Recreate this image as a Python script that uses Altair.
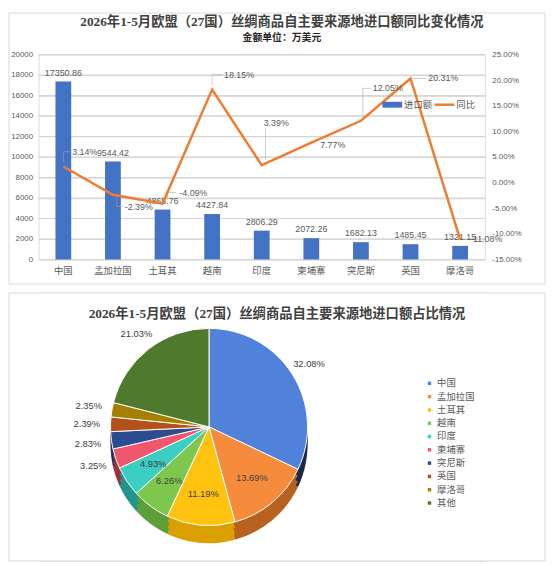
import altair as alt
import pandas as pd

# ---------------- data ----------------
countries = ["中国", "孟加拉国", "土耳其", "越南", "印度", "柬埔寨", "突尼斯", "英国", "摩洛哥"]
import_values = [17350.86, 9544.42, 4865.76, 4427.84, 2806.29, 2072.26, 1682.13, 1485.45, 1321.15]
yoy_pct = [3.14, -2.39, -4.09, 18.15, 3.39, 7.77, 12.05, 20.31, -11.08]

left_ticks = [0, 2000, 4000, 6000, 8000, 10000, 12000, 14000, 16000, 18000, 20000]
right_ticks = [-15, -10, -5, 0, 5, 10, 15, 20, 25]

pie_names = ["中国", "孟加拉国", "土耳其", "越南", "印度", "柬埔寨", "突尼斯", "英国", "摩洛哥", "其他"]
pie_shares = [32.08, 13.69, 11.19, 6.26, 4.93, 3.25, 2.83, 2.39, 2.35, 21.03]

top_title = "2026年1-5月欧盟（27国）丝绸商品自主要来源地进口额同比变化情况"
top_subtitle = "金额单位：万美元"
bottom_title = "2026年1-5月欧盟（27国）丝绸商品自主要来源地进口额占比情况"
bar_name = "进口额"
line_name = "同比"

# ---------------- styles ----------------
W, H = 453, 208
FONT = "Liberation Sans, Noto Sans CJK SC"
CJK = "Noto Sans CJK SC"
TFONT = "Liberation Serif, Noto Sans CJK SC"
GREY = "#595959"
FRAME = "#D9D9D9"
GRID = "#D4D4D4"
LEADER = "#A6A6A6"
BAR = "#4472C4"
LINE = "#ED7D31"

face_colors = ["#5082D9", "#F68B3B", "#FFC30F", "#7DC74F", "#3CCEC2",
               "#F1566F", "#2B4C8E", "#B4501A", "#A57F00", "#4F7A2E"]
side_colors = ["#1B2A4A", "#B8621F", "#D9A000", "#5E9E36", "#22968D",
               "#9C3040", "#1D3360", "#7A3610", "#6E5600", "#35531F"]

# label offsets for the growth-rate labels (dx, dy)
line_label_offsets = {
    "中国": (9, -15), "孟加拉国": (12, 12), "土耳其": (17, -11), "越南": (12, -15),
    "印度": (2, -43), "柬埔寨": (9, 2), "突尼斯": (12, -33), "英国": (18, 0), "摩洛哥": (10, 0),
}
# leader-line segments: (orient, dx of centre, dy of centre, length)
leader_segments = {
    "中国": [("vertical", 0, -10, 10), ("horizontal", 3.5, -15, 7)],
    "孟加拉国": [("vertical", 4, 7.5, 9), ("horizontal", 7, 12, 6)],
    "土耳其": [("vertical", 5, -8, 6), ("horizontal", 9.5, -11, 9)],
    "越南": [("vertical", 0, -10, 10), ("horizontal", 5, -15, 10)],
    "印度": [("vertical", 4, -21.5, 33)],
    "突尼斯": [("vertical", 2, -18, 30), ("horizontal", 6, -33, 8)],
    "英国": [("horizontal", 9, 0, 14)],
}

PCT = "(V < 0 ? '-' : '') + format(abs(V), '.2f') + '%'"

df = pd.DataFrame({"country": countries, "imports": import_values, "yoy": yoy_pct})
grid_df = pd.DataFrame({"gv": left_ticks})
one = pd.DataFrame({"k": [0]})

x_enc = alt.X(
    "country:N", sort=countries,
    scale=alt.Scale(paddingInner=0, paddingOuter=0),
    axis=alt.Axis(title=None, labelAngle=0, ticks=False, domain=False,
                  labelFont=CJK, labelFontSize=9.5, labelColor=GREY, labelPadding=6),
)
yl_axis = alt.Axis(orient="left", title=None, values=left_ticks, grid=True, gridColor=GRID,
                   domain=False, ticks=False, labelFont=FONT, labelFontSize=8,
                   labelColor=GREY, labelPadding=6, format="d")
yl_scale = alt.Scale(domain=[0, 20000], nice=False)
yl_enc = alt.Y("imports:Q", scale=yl_scale, axis=yl_axis)
yr_enc = alt.Y(
    "yoy:Q", scale=alt.Scale(domain=[-15, 25], nice=False),
    axis=alt.Axis(orient="right", title=None, values=right_ticks, grid=False,
                  domain=False, ticks=False, labelFont=FONT, labelFontSize=8,
                  labelColor=GREY, labelPadding=7,
                  labelExpr=PCT.replace("V", "datum.value")),
)

base = alt.Chart(df)
grid = alt.Chart(grid_df).mark_tick(orient="horizontal", size=W, thickness=1, color=GRID,
                                    opacity=1).encode(
    y=alt.Y("gv:Q", scale=yl_scale, axis=yl_axis), x=alt.value(W / 2))
bars = base.mark_bar(size=16, color=BAR).encode(x=x_enc, y=yl_enc)
bar_text = base.mark_text(dy=-9, fontSize=9, color=GREY, font=FONT).encode(
    x=x_enc, y=yl_enc, text=alt.Text("imports:Q", format=".2f"))
left = alt.layer(grid, bars, bar_text)

line = base.mark_line(color=LINE, strokeWidth=2.5).encode(x=x_enc, y=yr_enc)
right_layers = []
for c in countries:
    for orient, sdx, sdy, ln in leader_segments.get(c, []):
        right_layers.append(
            base.transform_filter(alt.datum.country == c)
            .mark_tick(orient=orient, size=ln, thickness=0.8, color=LEADER,
                       xOffset=sdx, yOffset=sdy)
            .encode(x=x_enc, y=yr_enc)
        )
right_layers.append(line)
for c in countries:
    dx, dy = line_label_offsets[c]
    right_layers.append(
        base.transform_filter(alt.datum.country == c)
        .transform_calculate(lab=PCT.replace("V", "datum.yoy"))
        .mark_text(align="left", dx=dx, dy=dy, fontSize=9, color=GREY, font=FONT)
        .encode(x=x_enc, y=yr_enc, text="lab:N")
    )
right = alt.layer(*right_layers)

dec = alt.Chart(one)
top_frame = dec.mark_rect(fill="transparent", stroke=FRAME, strokeWidth=1).encode(
    x=alt.value(-30), x2=alt.value(514), y=alt.value(-42), y2=alt.value(233))
t_title = dec.mark_text(fontSize=13.5, fontWeight="bold", font=TFONT, color="#404040").encode(
    x=alt.value(247), y=alt.value(-33), text=alt.value(top_title))
t_sub = dec.mark_text(fontSize=10, fontWeight="bold", font=CJK, color="#262626").encode(
    x=alt.value(247), y=alt.value(-17), text=alt.value(top_subtitle))
leg_rect = dec.mark_rect(color=BAR).encode(
    x=alt.value(349), x2=alt.value(369), y=alt.value(48), y2=alt.value(54))
leg_t1 = dec.mark_text(align="left", fontSize=9.5, font=CJK, color=GREY).encode(
    x=alt.value(371), y=alt.value(51), text=alt.value(bar_name))
leg_line = dec.mark_rule(color=LINE, strokeWidth=2.5).encode(
    x=alt.value(402), x2=alt.value(422), y=alt.value(51))
leg_t2 = dec.mark_text(align="left", fontSize=9.5, font=CJK, color=GREY).encode(
    x=alt.value(424), y=alt.value(51), text=alt.value(line_name))

top = alt.layer(top_frame, left, right, t_title, t_sub, leg_rect, leg_t1, leg_line, leg_t2) \
    .resolve_scale(y="independent").properties(width=W, height=H)

# ---------------- pie ----------------
pie_df = pd.DataFrame({"country": pie_names, "share": pie_shares, "idx": list(range(len(pie_names)))})
inside = ["孟加拉国", "土耳其", "越南", "印度"]
big_out = ["中国", "其他"]
small_out = ["柬埔寨", "突尼斯", "英国", "摩洛哥"]

pbase = alt.Chart(pie_df).transform_calculate(
    lab_in="indexof(" + str(inside) + ", datum.country) >= 0 ? format(datum.share, '.2f') + '%' : ''",
    lab_big="indexof(" + str(big_out) + ", datum.country) >= 0 ? format(datum.share, '.2f') + '%' : ''",
    lab_small="indexof(" + str(small_out) + ", datum.country) >= 0 ? format(datum.share, '.2f') + '%' : ''",
)
CX, CY, R = 173, 136, 100
DEPTH = 18
theta = alt.Theta("share:Q", stack=True)
order = alt.Order("idx:Q")

sides = []
for off in (DEPTH, DEPTH * 2 // 3, DEPTH // 3):
    sides.append(pbase.mark_arc(radius=R).encode(
        theta=theta, order=order,
        color=alt.Color("country:N", scale=alt.Scale(domain=pie_names, range=side_colors), legend=None),
        x=alt.value(CX), y=alt.value(CY + off)))

face = pbase.mark_arc(radius=R, stroke="white", strokeWidth=1).encode(
    theta=theta, order=order,
    color=alt.Color("country:N", scale=alt.Scale(domain=pie_names, range=face_colors),
                    legend=alt.Legend(title=None, orient="none", legendX=392, legendY=87,
                                      symbolType="square", symbolSize=12, symbolStrokeWidth=0,
                                      labelFont=CJK, labelFontSize=9.5, labelColor=GREY,
                                      labelOffset=3, rowPadding=2.5, padding=0)),
    x=alt.value(CX), y=alt.value(CY))

def pie_text(field, rad):
    return pbase.mark_text(radius=rad, fontSize=9.5, color="#404040", font=FONT).encode(
        theta=theta, order=order, text=alt.Text(field + ":N"),
        x=alt.value(CX), y=alt.value(CY))

txt_in = pie_text("lab_in", 68)
txt_big = pie_text("lab_big", 120)
txt_small = pie_text("lab_small", 124)

bdec = alt.Chart(one)
bottom_frame = bdec.mark_rect(fill="white", stroke=FRAME, strokeWidth=1).encode(
    x=alt.value(-30), x2=alt.value(514), y=alt.value(0), y2=alt.value(272))
b_title = bdec.mark_text(fontSize=13.5, fontWeight="bold", font=TFONT, color="#404040").encode(
    x=alt.value(242), y=alt.value(21), text=alt.value(bottom_title))

bottom = alt.layer(bottom_frame, b_title, *sides, face, txt_in, txt_big, txt_small) \
    .resolve_scale(color="independent").properties(width=W, height=272)

chart = alt.vconcat(top, bottom, spacing=7).properties(padding=0).configure_view(
    strokeWidth=0).configure(background="white")

chart.save("out.html", embed_options={"renderer": "svg", "actions": False})
